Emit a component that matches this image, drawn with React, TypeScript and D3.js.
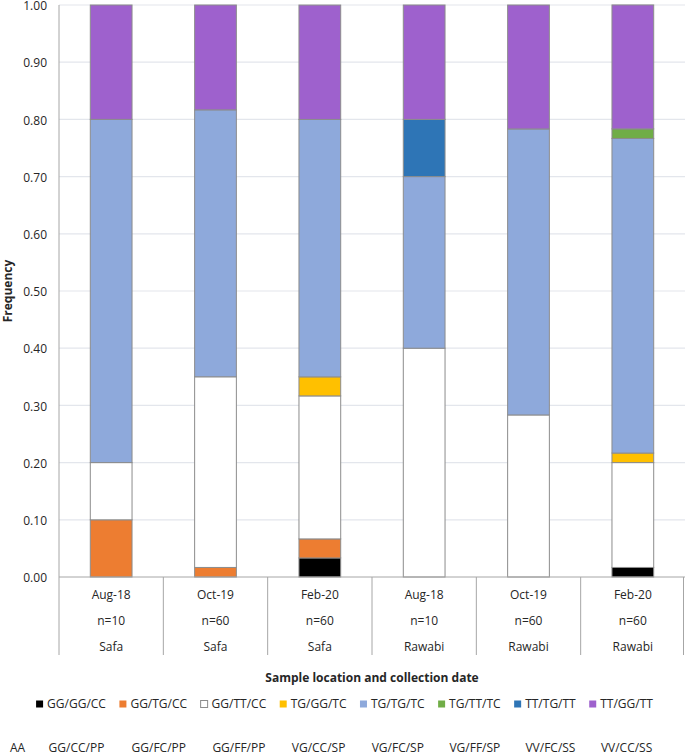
import React, { useRef, useEffect } from 'react';
import * as d3 from 'd3';

// Categories (x axis, three label rows)
const dates = ['Aug-18', 'Oct-19', 'Feb-20', 'Aug-18', 'Oct-19', 'Feb-20'];
const sampleSizes = ['n=10', 'n=60', 'n=60', 'n=10', 'n=60', 'n=60'];
const locations = ['Safa', 'Safa', 'Safa', 'Rawabi', 'Rawabi', 'Rawabi'];

// Genotypes (stack order, bottom to top) and amino-acid labels
const genotypes = ['GG/GG/CC', 'GG/TG/CC', 'GG/TT/CC', 'TG/GG/TC', 'TG/TG/TC', 'TG/TT/TC', 'TT/TG/TT', 'TT/GG/TT'];
const aminoAcids = ['GG/CC/PP', 'GG/FC/PP', 'GG/FF/PP', 'VG/CC/SP', 'VG/FC/SP', 'VG/FF/SP', 'VV/FC/SS', 'VV/CC/SS'];
const colors = ['#000000', '#ED7D31', '#FFFFFF', '#FFC000', '#8EA9DB', '#70AD47', '#2E75B6', '#9E61CD'];

// Frequencies per genotype, one value per category
const ggGgCc = [0, 0, 0.0333, 0, 0, 0.0167];
const ggTgCc = [0.1, 0.0167, 0.0333, 0, 0, 0];
const ggTtCc = [0.1, 0.3333, 0.25, 0.4, 0.2833, 0.1833];
const tgGgTc = [0, 0, 0.0333, 0, 0, 0.0167];
const tgTgTc = [0.6, 0.4667, 0.45, 0.3, 0.5, 0.55];
const tgTtTc = [0, 0, 0, 0, 0, 0.0167];
const ttTgTt = [0, 0, 0, 0.1, 0, 0];
const ttGgTt = [0.2, 0.1833, 0.2, 0.2, 0.2167, 0.2167];

const yTicks = [0, 0.1, 0.2, 0.3, 0.4, 0.5, 0.6, 0.7, 0.8, 0.9, 1.0];

const FONT = '"Open Sans", Lato, sans-serif';
const FS = '12px';
const TEXT = '#262626';

const Chart: React.FC<{ width?: number; height?: number }> = ({ width = 685, height = 755 }) => {
  const svgRef = useRef<SVGSVGElement>(null);

  useEffect(() => {
    if (!svgRef.current) return;
    document.body.style.margin = '0';
    const svg = d3.select(svgRef.current);
    svg.selectAll('*').remove();

    const margin = { top: 5, right: 0, bottom: 178, left: 59 };
    const innerWidth = width - margin.left - margin.right;
    const innerHeight = height - margin.top - margin.bottom;

    const series = [ggGgCc, ggTgCc, ggTtCc, tgGgTc, tgTgTc, tgTtTc, ttTgTt, ttGgTt];
    const rows = dates.map((_, i) => {
      const row: Record<string, number> = {};
      genotypes.forEach((g, k) => { row[g] = series[k][i]; });
      return row;
    });
    const stacked = d3.stack<Record<string, number>>().keys(genotypes)(rows);

    const x = d3.scaleBand<number>()
      .domain(d3.range(dates.length))
      .range([0, innerWidth])
      .paddingInner(0.6)
      .paddingOuter(0.3);
    const band = innerWidth / dates.length;
    const y = d3.scaleLinear().domain([0, 1]).range([innerHeight, 0]);

    const g = svg.append('g').attr('transform', `translate(${margin.left},${margin.top})`);

    // Gridlines
    g.append('g')
      .selectAll('line')
      .data(yTicks.slice(1))
      .enter().append('line')
      .attr('x1', 0)
      .attr('x2', innerWidth)
      .attr('y1', d => y(d))
      .attr('y2', d => y(d))
      .attr('stroke', '#E3E6EC')
      .attr('stroke-width', 1.2);

    // Y tick labels
    g.append('g')
      .selectAll('text')
      .data(yTicks)
      .enter().append('text')
      .attr('x', -12)
      .attr('y', d => y(d) + 1)
      .attr('dy', '0.35em')
      .attr('text-anchor', 'end')
      .style('font-family', FONT)
      .style('font-size', FS)
      .style('fill', TEXT)
      .text(d => d.toFixed(2));

    // Bars
    const layer = g.selectAll('.layer')
      .data(stacked)
      .enter().append('g')
      .attr('class', 'layer')
      .attr('fill', (_, i) => colors[i]);

    layer.selectAll('rect')
      .data(d => d.map((s, i) => ({ s, i })).filter(v => v.s[1] - v.s[0] > 0))
      .enter().append('rect')
      .attr('x', d => x(d.i) as number)
      .attr('width', x.bandwidth())
      .attr('y', d => y(d.s[1]))
      .attr('height', d => y(d.s[0]) - y(d.s[1]))
      .attr('stroke', '#8C8C8C')
      .attr('stroke-width', 1);

    // Axis lines and category separators
    const labelDepth = 78;
    g.append('line')
      .attr('x1', 0).attr('x2', innerWidth)
      .attr('y1', innerHeight).attr('y2', innerHeight)
      .attr('stroke', '#A6A6A6');
    g.append('line')
      .attr('x1', 0).attr('x2', 0)
      .attr('y1', 0).attr('y2', innerHeight + labelDepth)
      .attr('stroke', '#A6A6A6');
    g.append('g')
      .selectAll('line')
      .data(d3.range(1, dates.length + 1))
      .enter().append('line')
      .attr('x1', d => Math.min(d * band, innerWidth - 1.5))
      .attr('x2', d => Math.min(d * band, innerWidth - 1.5))
      .attr('y1', innerHeight)
      .attr('y2', innerHeight + labelDepth)
      .attr('stroke', '#A6A6A6');

    // Category labels (three rows)
    const labelRows = [dates, sampleSizes, locations];
    labelRows.forEach((labels, r) => {
      g.append('g')
        .selectAll('text')
        .data(labels)
        .enter().append('text')
        .attr('x', (_, i) => (x(i) as number) + x.bandwidth() / 2)
        .attr('y', innerHeight + 18 + r * 26)
        .attr('dy', '0.35em')
        .attr('text-anchor', 'middle')
        .style('font-family', FONT)
        .style('font-size', FS)
        .style('fill', TEXT)
        .text(d => d);
    });

    // Axis titles
    g.append('text')
      .attr('transform', `translate(${-margin.left + 8},${innerHeight / 2}) rotate(-90)`)
      .attr('dy', '0.35em')
      .attr('text-anchor', 'middle')
      .style('font-family', FONT)
      .style('font-size', FS)
      .style('font-weight', 'bold')
      .style('fill', TEXT)
      .text('Frequency');

    g.append('text')
      .attr('x', innerWidth / 2)
      .attr('y', innerHeight + 101)
      .attr('dy', '0.35em')
      .attr('text-anchor', 'middle')
      .style('font-family', FONT)
      .style('font-size', FS)
      .style('font-weight', 'bold')
      .style('fill', TEXT)
      .text('Sample location and collection date');

    // Legend
    const legendY = 704;
    const sq = 7;
    const sqGap = 4;
    const itemGap = 13.5;
    const legend = svg.append('g');
    const items = legend.selectAll('g')
      .data(genotypes)
      .enter().append('g');
    items.append('rect')
      .attr('width', sq)
      .attr('height', sq)
      .attr('y', legendY - sq / 2)
      .attr('fill', (_, i) => colors[i])
      .attr('stroke', (_, i) => (colors[i] === '#FFFFFF' ? '#8C8C8C' : 'none'));
    const legendTexts = items.append('text')
      .attr('x', sq + sqGap)
      .attr('y', legendY)
      .attr('dy', '0.35em')
      .style('font-family', FONT)
      .style('font-size', FS)
      .style('fill', TEXT)
      .text(d => d);

    const widths: number[] = [];
    legendTexts.each(function () { widths.push((this as SVGTextElement).getComputedTextLength()); });
    const total = d3.sum(widths) + genotypes.length * (sq + sqGap) + (genotypes.length - 1) * itemGap;
    let cursor = width / 2 + 2 - total / 2;
    const textCenters: number[] = [];
    items.each(function (_, i) {
      d3.select(this).attr('transform', `translate(${cursor},0)`);
      textCenters.push(cursor + sq + sqGap + widths[i] / 2);
      cursor += sq + sqGap + widths[i] + itemGap;
    });

    // Amino-acid row
    const aaY = 748;
    svg.append('text')
      .attr('x', 10)
      .attr('y', aaY)
      .attr('dy', '0.35em')
      .style('font-family', FONT)
      .style('font-size', FS)
      .style('fill', TEXT)
      .text('AA');
    svg.append('g')
      .selectAll('text')
      .data(aminoAcids)
      .enter().append('text')
      .attr('x', (_, i) => textCenters[i])
      .attr('y', aaY)
      .attr('dy', '0.35em')
      .attr('text-anchor', 'middle')
      .style('font-family', FONT)
      .style('font-size', FS)
      .style('fill', TEXT)
      .text(d => d);
  }, [width, height]);

  return <svg ref={svgRef} width={width} height={height} style={{ display: 'block', background: '#fff' }}></svg>;
};

export default function App() {
  return <Chart />;
}
